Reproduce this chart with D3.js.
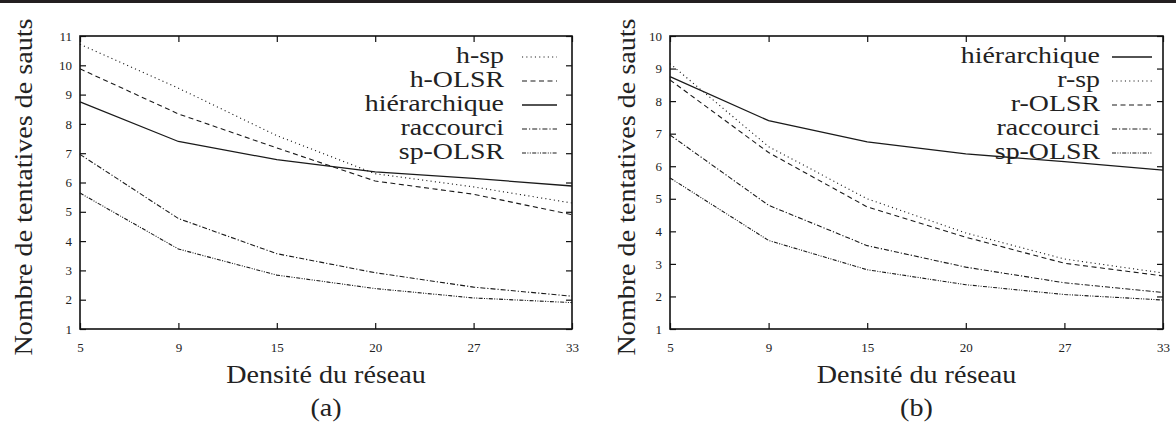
<!DOCTYPE html>
<html><head><meta charset="utf-8">
<script src="https://cdn.jsdelivr.net/npm/d3@7"></script>
<style>
html,body{margin:0;padding:0;background:#fff;}
svg{display:block;}
</style></head>
<body>
<svg id="chart" width="1176" height="432"></svg>
<script>
// ---- data ----
const categories = ["5", "9", "15", "20", "27", "33"];

// chart (a)
const aSeriesNames = ["h-sp", "h-OLSR", "hiérarchique", "raccourci", "sp-OLSR"];
const a_hsp        = [10.72, 9.22, 7.6, 6.3, 5.85, 5.3];
const a_hOLSR      = [9.88, 8.34, 7.18, 6.05, 5.6, 4.9];
const a_hier       = [8.75, 7.4, 6.78, 6.36, 6.14, 5.88];
const a_racc       = [6.96, 4.77, 3.57, 2.92, 2.43, 2.12];
const a_spOLSR     = [5.64, 3.73, 2.84, 2.38, 2.06, 1.9];
const aYTicks = [1, 2, 3, 4, 5, 6, 7, 8, 9, 10, 11];

// chart (b)
const bSeriesNames = ["hiérarchique", "r-sp", "r-OLSR", "raccourci", "sp-OLSR"];
const b_hier       = [8.75, 7.4, 6.75, 6.38, 6.14, 5.88];
const b_rsp        = [9.15, 6.6, 5.0, 3.95, 3.15, 2.72];
const b_rOLSR      = [8.65, 6.42, 4.75, 3.82, 3.02, 2.63];
const b_racc       = [6.96, 4.8, 3.56, 2.9, 2.42, 2.12];
const b_spOLSR     = [5.64, 3.72, 2.82, 2.36, 2.06, 1.89];
const bYTicks = [1, 2, 3, 4, 5, 6, 7, 8, 9, 10];

const xTitle = "Densité du réseau";
const yTitle = "Nombre de tentatives de sauts";

// ---- styles ----
const dashFor = {
  "h-sp": "1.1 3.2", "r-sp": "1.1 3.2",
  "h-OLSR": "5 3.5", "r-OLSR": "5 3.5",
  "hiérarchique": null,
  "raccourci": "5 2 1.2 2",
  "sp-OLSR": "4 1.4 1 1.4 1 1.4"
};

const svg = d3.select("#chart");
svg.append("rect").attr("x", 0).attr("y", 0).attr("width", 1176).attr("height", 3).attr("fill", "#231f20");

const BIG = "'Liberation Serif', 'Times New Roman', serif";
function stretch(sel, k) {
  sel.each(function () {
    const w = this.getComputedTextLength();
    d3.select(this).attr("textLength", w * k).attr("lengthAdjust", "spacingAndGlyphs");
  });
}

function drawChart(cfg) {
  const { left, right, top, bottom, yMax, yTicks, names, series, label, legend } = cfg;
  const g = svg.append("g");
  const x = d3.scalePoint().domain(categories).range([left, right]);
  const y = d3.scaleLinear().domain([1, yMax]).range([bottom, top]);

  // axes with inward ticks on all sides
  const tl = 6;
  g.append("g").attr("transform", `translate(0,${bottom})`)
    .call(d3.axisBottom(x).tickSize(-tl).tickPadding(14))
    .call(s => s.select(".domain").remove());
  g.append("g").attr("transform", `translate(0,${top})`)
    .call(d3.axisTop(x).tickSize(-tl).tickFormat(""))
    .call(s => s.select(".domain").remove());
  g.append("g").attr("transform", `translate(${left},0)`)
    .call(d3.axisLeft(y).tickValues(yTicks).tickSize(-tl).tickPadding(cfg.yPad).tickFormat(d3.format("d")))
    .call(s => s.select(".domain").remove());
  g.append("g").attr("transform", `translate(${right},0)`)
    .call(d3.axisRight(y).tickValues(yTicks).tickSize(-tl).tickFormat(""))
    .call(s => s.select(".domain").remove());
  g.selectAll(".tick line").attr("stroke", "#111").attr("stroke-width", 1.2);
  g.selectAll(".tick text").attr("font-family", BIG).attr("font-size", 13).attr("fill", "#222");

  // frame
  g.append("rect").attr("x", left).attr("y", top).attr("width", right - left).attr("height", bottom - top)
    .attr("fill", "none").attr("stroke", "#111").attr("stroke-width", 1.6);

  // lines
  const line = d3.line().x((d, i) => x(categories[i])).y(d => y(d));
  names.forEach((n, i) => {
    g.append("path").datum(series[i]).attr("d", line)
      .attr("fill", "none").attr("stroke", "#1a1a1a")
      .attr("stroke-width", n === "hiérarchique" ? 1.3 : 1.1)
      .attr("stroke-dasharray", dashFor[n]);
  });

  // legend
  names.forEach((n, i) => {
    const ly = legend.y0 + i * legend.dy;
    g.append("text").attr("x", legend.textRight).attr("y", ly + 6)
      .attr("text-anchor", "end").attr("font-family", BIG).attr("font-size", 24).attr("fill", "#222")
      .text(n).call(stretch, 1.16);
    g.append("line").attr("x1", legend.lineX0).attr("x2", legend.lineX1).attr("y1", ly).attr("y2", ly)
      .attr("stroke", "#1a1a1a").attr("stroke-width", n === "hiérarchique" ? 1.3 : 1.1)
      .attr("stroke-dasharray", dashFor[n]);
  });

  // titles
  const cx = (left + right) / 2;
  g.append("text").attr("x", cx).attr("y", 383).attr("text-anchor", "middle")
    .attr("font-family", BIG).attr("font-size", 26).attr("fill", "#222").text(xTitle).call(stretch, 1.08);
  g.append("text").attr("transform", `translate(${cfg.yTitleX},187) rotate(-90)`).attr("text-anchor", "middle")
    .attr("font-family", BIG).attr("font-size", 26).attr("fill", "#222").text(yTitle).call(stretch, 1.08);
  g.append("text").attr("x", cx).attr("y", 416).attr("text-anchor", "middle")
    .attr("font-family", BIG).attr("font-size", 26).attr("fill", "#222").text(label).call(stretch, 1.08);
}

drawChart({
  left: 80, right: 572, top: 36, bottom: 329, yMax: 11, yTicks: aYTicks, yPad: 8,
  names: aSeriesNames, series: [a_hsp, a_hOLSR, a_hier, a_racc, a_spOLSR], label: "(a)",
  legend: { y0: 57, dy: 24, textRight: 504, lineX0: 522, lineX1: 557 }, yTitleX: 32
});
drawChart({
  left: 670, right: 1163, top: 36, bottom: 329, yMax: 10, yTicks: bYTicks, yPad: 8,
  names: bSeriesNames, series: [b_hier, b_rsp, b_rOLSR, b_racc, b_spOLSR], label: "(b)",
  legend: { y0: 57, dy: 24, textRight: 1100, lineX0: 1112, lineX1: 1152 }, yTitleX: 635
});
</script>
</body></html>
